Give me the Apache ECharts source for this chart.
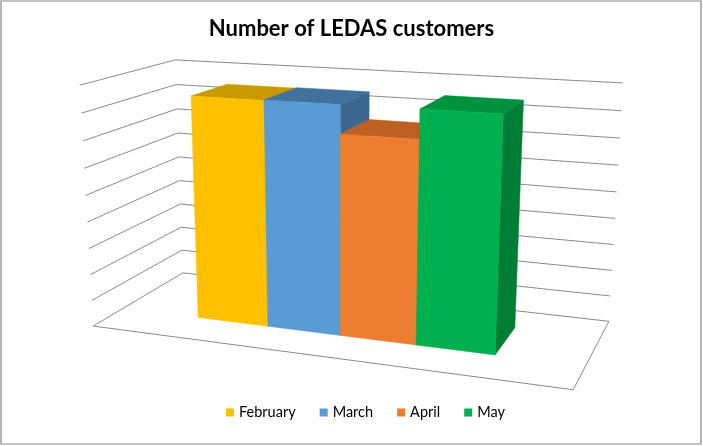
<!DOCTYPE html>
<html><head><meta charset="utf-8">
<script src="https://cdn.jsdelivr.net/npm/echarts@6/dist/echarts.min.js"></script>
<style>html,body{margin:0;padding:0;background:#fff}#c{width:703px;height:446px}</style>
</head><body><div id="c"></div>
<script>
// ---- data ----
const months = ['February', 'March', 'April', 'May'];
const customers = [846, 848, 745, 850];
const tickValues = [0, 100, 200, 300, 400, 500, 600, 700, 800, 900];
const axisMax = 900;

// ---- styles ----
const baseColors = ['#FFC000', '#5B9BD5', '#ED7D31', '#00B050'];
const topColors = ['#C89A00', '#41719C', '#BE6024', '#00923F'];
const sideColors = ['#B08700', '#3B6790', '#A8541E', '#007E36'];

// ---- 3D view (box corners of the plot cube -> screen), layout only ----
const viewCorners = [
  [[0, 1, 1], [175, 60]],
  [[1, 1, 1], [623, 83]],
  [[1, 0, 1], [609, 321]],
  [[0, 0, 1], [183, 273]],
  [[0, 1, 0], [80, 85]],
  [[0, 0, 0], [93, 326]],
  [[1, 0, 0], [573, 390]]
];
const barSpanX = [0.18, 0.824];
const barSpanZ = [0.31, 0.73];

function fitProjection(pairs) {
  const s = 100;
  const rows = [], rhs = [];
  pairs.forEach(([[X, Y, Z], [u0, v0]]) => {
    const u = u0 / s, v = v0 / s;
    rows.push([X, Y, Z, 1, 0, 0, 0, 0, -u * X, -u * Y, -u * Z]); rhs.push(u);
    rows.push([0, 0, 0, 0, X, Y, Z, 1, -v * X, -v * Y, -v * Z]); rhs.push(v);
  });
  const n = 11;
  const M = [];
  for (let i = 0; i < n; i++) {
    const r = new Array(n + 1).fill(0);
    for (let j = 0; j < n; j++) for (let k = 0; k < rows.length; k++) r[j] += rows[k][i] * rows[k][j];
    for (let k = 0; k < rows.length; k++) r[n] += rows[k][i] * rhs[k];
    M.push(r);
  }
  for (let c = 0; c < n; c++) {
    let p = c;
    for (let r = c + 1; r < n; r++) if (Math.abs(M[r][c]) > Math.abs(M[p][c])) p = r;
    [M[c], M[p]] = [M[p], M[c]];
    for (let r = 0; r < n; r++) {
      if (r === c) continue;
      const f = M[r][c] / M[c][c];
      for (let k = c; k <= n; k++) M[r][k] -= f * M[c][k];
    }
  }
  const p = M.map((r, i) => r[n] / r[i]);
  return function (X, Y, Z) {
    const w = p[8] * X + p[9] * Y + p[10] * Z + 1;
    return [s * (p[0] * X + p[1] * Y + p[2] * Z + p[3]) / w,
            s * (p[4] * X + p[5] * Y + p[6] * Z + p[7]) / w];
  };
}
const proj = fitProjection(viewCorners);

function worldY(api, params, v) {
  const cs = params.coordSys;
  const c = api.coord([0, v]);
  return (cs.y + cs.height - c[1]) / cs.height;
}

const lineStyle = { stroke: '#8A8A8A', lineWidth: 1 };
function seg(a, b) {
  return { type: 'line', shape: { x1: a[0], y1: a[1], x2: b[0], y2: b[1] }, style: lineStyle, silent: true };
}

function renderGrid(params, api) {
  const Y = worldY(api, params, api.value(1));
  const children = [
    seg(proj(0, Y, 1), proj(1, Y, 1)),
    seg(proj(0, Y, 0), proj(0, Y, 1))
  ];
  if (api.value(1) === 0) {
    children.push(seg(proj(0, 0, 0), proj(1, 0, 0)));
    children.push(seg(proj(1, 0, 0), proj(1, 0, 1)));
  }
  return { type: 'group', children };
}

function poly(pts, color) {
  return { type: 'polygon', shape: { points: pts }, style: { fill: color, stroke: color, lineWidth: 0.5 } };
}

function makeBarRenderer(i) {
  return function (params, api) {
    const cs = params.coordSys;
    const idx = api.value(0);
    const c = api.coord([idx, api.value(1)]);
    const bw = api.size([1, 0])[0];
    const f0 = (c[0] - bw / 2 - cs.x) / cs.width;
    const f1 = (c[0] + bw / 2 - cs.x) / cs.width;
    const X0 = barSpanX[0] + f0 * (barSpanX[1] - barSpanX[0]);
    const X1 = barSpanX[0] + f1 * (barSpanX[1] - barSpanX[0]);
    const Y = worldY(api, params, api.value(1));
    const Z0 = barSpanZ[0], Z1 = barSpanZ[1];
    const top = [proj(X0, Y, Z0), proj(X1, Y, Z0), proj(X1, Y, Z1), proj(X0, Y, Z1)];
    const front = [proj(X0, 0, Z0), proj(X1, 0, Z0), proj(X1, Y, Z0), proj(X0, Y, Z0)];
    const right = [proj(X1, 0, Z0), proj(X1, 0, Z1), proj(X1, Y, Z1), proj(X1, Y, Z0)];
    return {
      type: 'group',
      children: [poly(right, sideColors[i]), poly(top, topColors[i]), poly(front, baseColors[i])]
    };
  };
}

const series = [{
  type: 'custom',
  name: 'grid',
  silent: true,
  renderItem: renderGrid,
  data: tickValues.map(t => [0, t]),
  z: 1
}];
months.forEach((m, i) => {
  series.push({
    type: 'custom',
    name: m,
    renderItem: makeBarRenderer(i),
    itemStyle: { color: baseColors[i] },
    data: [[i, customers[i]]],
    z: 2
  });
});

const chart = echarts.init(document.getElementById('c'), null, { renderer: 'canvas' });
chart.setOption({
  animation: false,
  backgroundColor: '#fff',
  title: {
    text: 'Number of LEDAS customers',
    left: 'center',
    top: 13,
    textStyle: { fontFamily: 'Lato', fontWeight: 'bold', fontSize: 22, color: '#000' }
  },
  legend: {
    data: months,
    top: 400,
    left: 221,
    icon: 'rect',
    itemWidth: 8,
    itemHeight: 8,
    itemGap: 24,
    textStyle: { fontFamily: 'Lato', fontSize: 14.5, color: '#000' }
  },
  grid: { left: 0, top: 0, width: 400, height: 400, show: false },
  xAxis: { type: 'category', data: months, show: false },
  yAxis: { type: 'value', min: 0, max: axisMax, interval: 100, show: false },
  graphic: [{
    type: 'rect',
    shape: { x: 1, y: 1, width: 700, height: 443 },
    style: { fill: 'none', stroke: '#878787', lineWidth: 1.2 },
    silent: true,
    z: 100
  }],
  series
});
</script>
</body></html>
